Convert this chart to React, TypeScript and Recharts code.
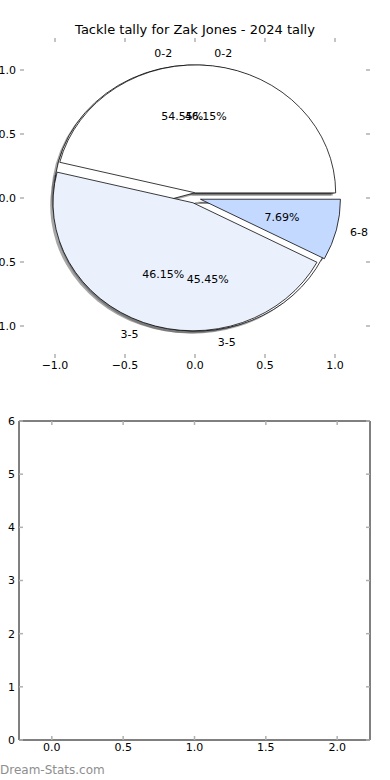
import React from 'react';
import { PieChart, Pie, Cell, Sector, ScatterChart, XAxis, YAxis } from 'recharts';

// tackle ranges and the two tallies drawn on top of each other
const tallyLabels = ['0-2', '3-5', '6-8'];
const firstTally = [6, 5];
const secondTally = [6, 6, 1];
const firstColors = ['#ffffff', '#ffffff'];
const secondColors = ['#ffffff', '#eaf1fd', '#c3d9ff'];

const pieTicks = [-1, -0.5, 0, 0.5, 1];
const emptyXTicks = [0, 0.5, 1, 1.5, 2];
const emptyYTicks = [0, 1, 2, 3, 4, 5, 6];

const FONT = '"DejaVu Sans", Verdana, sans-serif';
const RAD = Math.PI / 180;
const RY = 128 / 140; // axes are not square, so the pie is an ellipse
const EXPLODE = 0.04;
const TICK = '#b0b0b0';

const firstData = firstTally.map((value, i) => ({ name: tallyLabels[i], value }));
const secondData = secondTally.map((value, i) => ({ name: tallyLabels[i], value }));

const makeWedge = (sx: number, sy: number) => (props: any) => {
  const { cx, cy, midAngle, outerRadius } = props;
  const off = EXPLODE * outerRadius;
  const tx = off * Math.cos(-midAngle * RAD) + sx;
  const ty = off * Math.sin(-midAngle * RAD) * RY + sy;
  return (
    <g transform={`translate(${cx + tx} ${cy + ty}) scale(1 ${RY}) translate(${-cx} ${-cy})`}>
      <Sector {...props} />
    </g>
  );
};

const wedge = makeWedge(0, 0);
const shadow = makeWedge(-0.02 * 140, 0.02 * 128);

const renderLabels = (props: any) => {
  const { cx, cy, midAngle, outerRadius, percent } = props;
  const name = props.name ?? props.payload?.name;
  const c = Math.cos(-midAngle * RAD);
  const s = Math.sin(-midAngle * RAD);
  const ox = cx + EXPLODE * outerRadius * c;
  const oy = cy + EXPLODE * outerRadius * s * RY;
  return (
    <g style={{ fontFamily: FONT, fontSize: 11 }}>
      <text
        x={ox + 1.1 * outerRadius * c}
        y={oy + 1.1 * outerRadius * s * RY}
        textAnchor={c > 0 ? 'start' : 'end'}
        dominantBaseline="central"
        fill="#000"
      >
        {name}
      </text>
      <text
        x={ox + 0.6 * outerRadius * c}
        y={oy + 0.6 * outerRadius * s * RY}
        textAnchor="middle"
        dominantBaseline="central"
        fill="#000"
      >
        {(percent * 100).toFixed(2)}%
      </text>
    </g>
  );
};

const minus = (v: number) => v.toFixed(1).replace('-', '\u2212');
const tickStyle = { fill: '#000', fontSize: 11, fontFamily: FONT };
const noLabel = () => <g />;
const markLine = { stroke: TICK, strokeWidth: 1.5 };

function PieLayer({ data, colors, kind }: { data: any[]; colors: string[]; kind: 'shadow' | 'wedge' | 'label' }) {
  const shape = kind === 'shadow' ? shadow : wedge;
  return (
    <Pie
      data={data}
      dataKey="value"
      nameKey="name"
      cx={195}
      cy={198}
      outerRadius={140}
      startAngle={0}
      endAngle={360}
      isAnimationActive={false}
      labelLine={false}
      label={kind === 'label' ? renderLabels : false}
      shape={kind === 'label' ? undefined : shape}
      activeShape={kind === 'label' ? undefined : shape}
      inactiveShape={kind === 'label' ? undefined : shape}
      stroke={kind === 'wedge' ? '#000' : 'none'}
      strokeWidth={0.8}
    >
      {data.map((d, i) => (
        <Cell
          key={d.name}
          fill={kind === 'wedge' ? colors[i] : kind === 'shadow' ? '#4d4d4d' : 'none'}
          fillOpacity={kind === 'shadow' ? 0.5 : 1}
        />
      ))}
    </Pie>
  );
}

export default function App() {
  return (
    <div style={{ position: 'absolute', left: 0, top: 0, width: 390, height: 780, background: '#fff', fontFamily: FONT }}>
      <div style={{ position: 'absolute', top: 22, left: 0, width: 390, textAlign: 'center', fontSize: 13, lineHeight: '16px' }}>
        Tackle tally for Zak Jones - 2024 tally
      </div>

      {/* top axes: frame off, ticks only */}
      <div style={{ position: 'absolute', left: 0, top: 0 }}>
        <ScatterChart width={390} height={380} margin={{ top: 38, right: 20, bottom: 0, left: 0 }}>
          <XAxis xAxisId="b" type="number" dataKey="x" domain={[-1.25, 1.25]} ticks={pieTicks} allowDataOverflow
            axisLine={false} tickLine={false} tickSize={0} tickMargin={3} height={22} tick={tickStyle} tickFormatter={minus} />
          <XAxis xAxisId="bm" type="number" dataKey="x" domain={[-1.25, 1.25]} ticks={pieTicks} allowDataOverflow mirror
            axisLine={false} tick={noLabel} tickSize={4} tickLine={markLine} />
          <XAxis xAxisId="tm" orientation="top" type="number" dataKey="x" domain={[-1.25, 1.25]} ticks={pieTicks} allowDataOverflow mirror
            axisLine={false} tick={noLabel} tickSize={4} tickLine={markLine} />
          <YAxis yAxisId="l" type="number" dataKey="y" domain={[-1.25, 1.25]} ticks={pieTicks} allowDataOverflow width={20}
            axisLine={false} tickLine={false} tickSize={0} tickMargin={4} tick={tickStyle} tickFormatter={minus} />
          <YAxis yAxisId="lm" type="number" dataKey="y" domain={[-1.25, 1.25]} ticks={pieTicks} allowDataOverflow mirror
            axisLine={false} tick={noLabel} tickSize={4} tickLine={markLine} />
          <YAxis yAxisId="rm" orientation="right" type="number" dataKey="y" domain={[-1.25, 1.25]} ticks={pieTicks} allowDataOverflow mirror
            axisLine={false} tick={noLabel} tickSize={4} tickLine={markLine} />
        </ScatterChart>
      </div>

      <div style={{ position: 'absolute', left: 0, top: 0 }}>
        <PieChart width={390} height={380} margin={{ top: 0, right: 0, bottom: 0, left: 0 }}>
          <PieLayer data={firstData} colors={firstColors} kind="shadow" />
          <PieLayer data={secondData} colors={secondColors} kind="shadow" />
          <PieLayer data={firstData} colors={firstColors} kind="wedge" />
          <PieLayer data={secondData} colors={secondColors} kind="wedge" />
          <PieLayer data={firstData} colors={firstColors} kind="label" />
          <PieLayer data={secondData} colors={secondColors} kind="label" />
        </PieChart>
      </div>

      {/* empty second axes with a frame */}
      <div style={{ position: 'absolute', left: 0, top: 380 }}>
        <ScatterChart width={390} height={400} margin={{ top: 41, right: 20, bottom: 18, left: 0 }}>
          <XAxis xAxisId="b" type="number" dataKey="x" domain={[-0.23, 2.23]} ticks={emptyXTicks} allowDataOverflow
            axisLine={{ stroke: '#000' }} tickLine={false} tickSize={0} tickMargin={3} height={22} tick={tickStyle}
            tickFormatter={(v: number) => v.toFixed(1)} />
          <XAxis xAxisId="bm" type="number" dataKey="x" domain={[-0.23, 2.23]} ticks={emptyXTicks} allowDataOverflow mirror
            axisLine={false} tick={noLabel} tickSize={4} tickLine={markLine} />
          <XAxis xAxisId="tm" orientation="top" type="number" dataKey="x" domain={[-0.23, 2.23]} ticks={emptyXTicks} allowDataOverflow mirror
            axisLine={{ stroke: '#000' }} tick={noLabel} tickSize={4} tickLine={markLine} />
          <YAxis yAxisId="l" type="number" dataKey="y" domain={[0, 6]} ticks={emptyYTicks} allowDataOverflow width={19}
            axisLine={{ stroke: '#000' }} tickLine={false} tickSize={0} tickMargin={4} tick={tickStyle} />
          <YAxis yAxisId="lm" type="number" dataKey="y" domain={[0, 6]} ticks={emptyYTicks} allowDataOverflow mirror
            axisLine={false} tick={noLabel} tickSize={4} tickLine={markLine} />
          <YAxis yAxisId="rm" orientation="right" type="number" dataKey="y" domain={[0, 6]} ticks={emptyYTicks} allowDataOverflow mirror
            axisLine={{ stroke: '#000' }} tick={noLabel} tickSize={4} tickLine={markLine} />
        </ScatterChart>
      </div>

      <div style={{ position: 'absolute', left: 0, top: 762, fontSize: 12, lineHeight: '16px', color: '#8e8e8e' }}>
        Dream-Stats.com
      </div>
    </div>
  );
}
